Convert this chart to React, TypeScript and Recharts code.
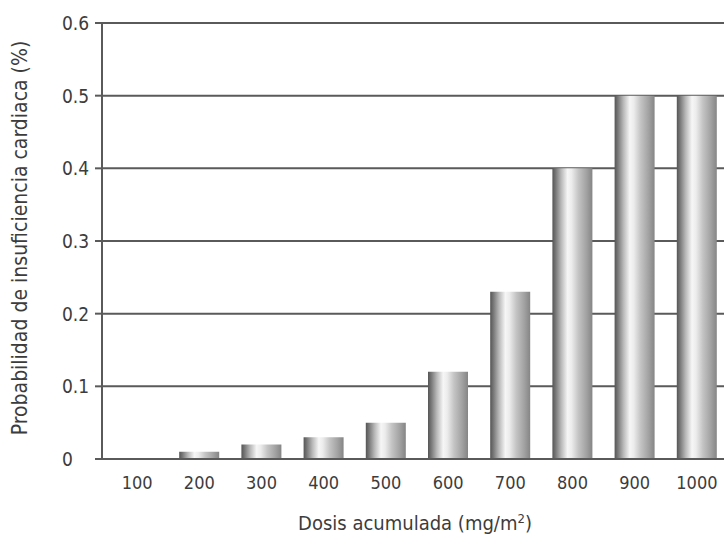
import React from 'react';
import { BarChart, Bar, XAxis, YAxis, CartesianGrid } from 'recharts';

const doses = ['100', '200', '300', '400', '500', '600', '700', '800', '900', '1000'];
const probability = [0, 0.01, 0.02, 0.03, 0.05, 0.12, 0.23, 0.4, 0.5, 0.5];
const yTicks = [0, 0.1, 0.2, 0.3, 0.4, 0.5, 0.6];

const data = doses.map((d, i) => ({ dose: d, value: probability[i] }));

const FONT = "'Liberation Sans Narrow', 'DejaVu Sans Condensed', 'Liberation Sans', sans-serif";
const TEXT = '#3c3c3c';
const LINE = '#5a5a5a';

const YTick = (props: any) => {
  const { y, payload } = props;
  const v = payload.value as number;
  return (
    <text x={62} y={y + 7} textAnchor="start" fontFamily={FONT} fontSize={19} fill={TEXT}>
      {v === 0 ? '0' : v.toFixed(1)}
    </text>
  );
};

const XTick = (props: any) => {
  const { x, y, payload } = props;
  return (
    <text x={x} y={y + 30} textAnchor="middle" fontFamily={FONT} fontSize={18} fill={TEXT}>
      {payload.value}
    </text>
  );
};

const YLabel = (props: any) => {
  const vb = props.viewBox;
  const cx = 27;
  const cy = vb.y + vb.height / 2 - 3;
  return (
    <text
      x={cx}
      y={cy}
      transform={`rotate(-90, ${cx}, ${cy})`}
      textAnchor="middle"
      fontFamily={FONT}
      fontSize={21}
      fill={TEXT}
    >
      Probabilidad de insuficiencia cardiaca (%)
    </text>
  );
};

const XLabel = (props: any) => {
  const vb = props.viewBox;
  const cx = vb.x + vb.width / 2;
  return (
    <text x={cx} y={530} textAnchor="middle" fontFamily={FONT} fontSize={20} fill={TEXT}>
      Dosis acumulada (mg/m
      <tspan dy={-7} fontSize={13}>2</tspan>
      <tspan dy={7}>)</tspan>
    </text>
  );
};

export default function App() {
  return (
    <div style={{ position: 'absolute', left: 0, top: 0, width: 724, height: 540, overflow: 'hidden', background: '#fff' }}>
      <BarChart
        width={740}
        height={540}
        data={data}
        margin={{ top: 23, right: 12, bottom: 0, left: 0 }}
        barCategoryGap={0}
      >
        <defs>
          <linearGradient id="barGrad" x1="0" y1="0" x2="1" y2="0">
            <stop offset="0" stopColor="#555555" />
            <stop offset="0.08" stopColor="#777777" />
            <stop offset="0.22" stopColor="#b8b8b8" />
            <stop offset="0.38" stopColor="#f6f6f6" />
            <stop offset="0.48" stopColor="#ececec" />
            <stop offset="0.65" stopColor="#c4c4c4" />
            <stop offset="0.85" stopColor="#a2a2a2" />
            <stop offset="1" stopColor="#858585" />
          </linearGradient>
        </defs>
        <CartesianGrid vertical={false} stroke={LINE} strokeWidth={2} />
        <XAxis
          dataKey="dose"
          tick={<XTick />}
          tickLine={false}
          tickSize={0}
          tickMargin={0}
          axisLine={{ stroke: LINE, strokeWidth: 2 }}
          padding={{ left: 4, right: 0 }}
          height={81}
          interval={0}
          label={<XLabel />}
        />
        <YAxis
          domain={[0, 0.6]}
          ticks={yTicks}
          width={102}
          tick={<YTick />}
          tickLine={{ stroke: LINE, strokeWidth: 2 }}
          tickSize={7}
          axisLine={{ stroke: LINE, strokeWidth: 2 }}
          label={<YLabel />}
          allowDataOverflow
        />
        <Bar dataKey="value" fill="url(#barGrad)" barSize={40} isAnimationActive={false} />
      </BarChart>
    </div>
  );
}
